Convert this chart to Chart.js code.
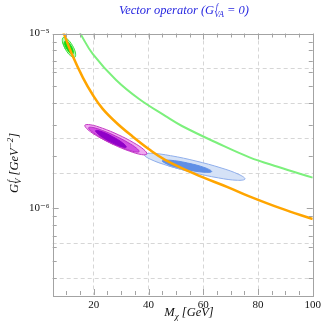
<!DOCTYPE html>
<html><head><meta charset="utf-8">
<script src="https://cdn.jsdelivr.net/npm/chart.js@4.4.0/dist/chart.umd.min.js"></script>
<style>html,body{margin:0;padding:0;background:#fff}#wrap{width:325px;height:334px}</style>
</head><body><div id="wrap"><canvas id="c" width="325" height="334"></canvas></div>
<script>
// ---- axis values ----
const xTicks = [10,15,20,25,30,35,40,45,50,55,60,65,70,75,80,85,90,95,100];
const xLabels = [20,40,60,80,100];
const xGrid = [20,40,60,80];
const yTicks = [4e-7,5e-7,6e-7,7e-7,8e-7,9e-7,1e-6,2e-6,3e-6,4e-6,5e-6,6e-6,7e-6,8e-6,9e-6,1e-5];
const yLabels = [1e-6,1e-5];
const yGrid = [6.31e-6,3.98e-6,2.51e-6,1.585e-6,6.31e-7,3.98e-7];

// ---- curves [M, G] ----
const orangeCurve = [[8.6,1.06e-5],[9.09,1.0e-5],[11.87,7.71e-6],[16.07,5.58e-6],[19.68,4.45e-6],[23.19,3.72e-6],[28.15,3.10e-6],[34.15,2.58e-6],[40.19,2.18e-6],[46.23,1.89e-6],[57.08,1.57e-6],[69.12,1.32e-6],[76.36,1.18e-6],[88.4,1.00e-6],[100,0.87e-6]];
const greenCurve = [[14.3,1.05e-5],[15.05,1.0e-5],[19.68,7.62e-6],[28.15,5.42e-6],[36.57,4.22e-6],[46.23,3.37e-6],[52.23,2.96e-6],[65.51,2.35e-6],[76.9,1.96e-6],[87.21,1.73e-6],[100,1.50e-6]];

// ---- contour outlines [M, G] ----
const greenOuter = [[9.70,8.10e-6],[8.57,8.96e-6],[8.83,9.49e-6],[10.33,9.30e-6],[12.20,8.55e-6],[13.33,7.73e-6],[13.07,7.30e-6],[11.56,7.45e-6]];
const greenInner = [[10.14,8.18e-6],[9.39,8.73e-6],[9.56,9.07e-6],[10.54,8.95e-6],[11.76,8.47e-6],[12.50,7.93e-6],[12.34,7.64e-6],[11.36,7.74e-6]];
const purpleOuter = [[27.24,2.316e-6],[21.69,2.568e-6],[17.85,2.819e-6],[16.74,2.988e-6],[18.68,3.010e-6],[23.13,2.876e-6],[28.91,2.640e-6],[34.46,2.381e-6],[38.30,2.169e-6],[39.41,2.046e-6],[37.47,2.031e-6],[33.02,2.126e-6]];
const purpleMid = [[26.74,2.358e-6],[22.21,2.568e-6],[19.06,2.768e-6],[18.13,2.894e-6],[19.68,2.902e-6],[23.27,2.786e-6],[27.97,2.593e-6],[32.49,2.381e-6],[35.64,2.209e-6],[36.57,2.112e-6],[35.03,2.107e-6],[31.43,2.193e-6]];
const purpleInner = [[25.79,2.418e-6],[21.97,2.635e-6],[20.66,2.782e-6],[22.64,2.758e-6],[26.74,2.579e-6],[30.57,2.367e-6],[31.87,2.240e-6],[29.89,2.261e-6]];
const blueOuter = [[56.32,1.603e-6],[47.17,1.754e-6],[40.60,1.913e-6],[38.38,2.031e-6],[41.10,2.065e-6],[48.04,2.003e-6],[57.33,1.866e-6],[66.49,1.705e-6],[73.05,1.564e-6],[75.27,1.473e-6],[72.55,1.448e-6],[65.61,1.494e-6]];
const blueInner = [[53.79,1.671e-6],[47.47,1.778e-6],[44.99,1.870e-6],[47.82,1.887e-6],[54.29,1.818e-6],[60.62,1.709e-6],[63.09,1.625e-6],[60.26,1.610e-6]];

const toXY = a => a.map(p => ({x:p[0], y:p[1]}));
const closed = a => toXY(a.concat([a[0], a[1]]));
const isLab = v => yLabels.some(l => Math.abs(Math.log10(v) - Math.log10(l)) < 1e-6);

function curve(a, color, w){
  return {data: toXY(a), borderColor: color, borderWidth: w, pointRadius: 0, fill: false,
          showLine: true, tension: 0.4};
}
function region(a, fillC, lineC, w){
  return {data: closed(a), borderColor: lineC, borderWidth: w, backgroundColor: fillC, fill: 'shape',
          pointRadius: 0, showLine: true, tension: 0.4};
}

const SERIF = '"Liberation Serif", "DejaVu Serif", serif';
function fontOf(g){ return 'italic ' + g.s + 'px ' + SERIF; }
function rich(ctx, segs, x, y, draw){
  let cx = x;
  for (let i = 0; i < segs.length; i++){
    const g = segs[i];
    ctx.font = fontOf(g);
    const ox = g.ox || 0;
    if (draw) ctx.fillText(g.t, cx + ox, y + (g.dy||0));
    let w = ctx.measureText(g.t).width + ox;
    if (g.stack){
      const n = segs[++i];
      ctx.font = fontOf(n);
      const nx = n.ox || 0;
      if (draw) ctx.fillText(n.t, cx + nx, y + (n.dy||0));
      w = Math.max(w, ctx.measureText(n.t).width + nx);
    }
    cx += w;
  }
  return cx - x;
}

const decor = {
  id: 'decor',
  afterDraw(chart){
    const ctx = chart.ctx, a = chart.chartArea, xs = chart.scales.x, ys = chart.scales.y;
    ctx.save();
    ctx.strokeStyle = '#a3a3a3'; ctx.lineWidth = 1;
    ctx.beginPath();
    xs.ticks.forEach(t => {
      const px = Math.round(xs.getPixelForValue(t.value)) + 0.5;
      const L = xLabels.includes(t.value) ? 6 : 4;
      ctx.moveTo(px, a.bottom); ctx.lineTo(px, a.bottom - L);
      ctx.moveTo(px, a.top); ctx.lineTo(px, a.top + L);
    });
    ys.ticks.forEach(t => {
      const py = Math.round(ys.getPixelForValue(t.value)) + 0.5;
      const L = isLab(t.value) ? 6 : 4;
      ctx.moveTo(a.left, py); ctx.lineTo(a.left + L, py);
      ctx.moveTo(a.right, py); ctx.lineTo(a.right - L, py);
    });
    ctx.stroke();
    ctx.strokeRect(Math.round(a.left) + 0.5, Math.round(a.top) + 0.5, Math.round(a.right - a.left), Math.round(a.bottom - a.top));

    ctx.textBaseline = 'alphabetic'; ctx.textAlign = 'left';
    // title
    ctx.fillStyle = '#2828e0';
    const tSegs = [{t:'Vector operator (G', s:12.5},{t:'f', s:8.5, dy:-5, ox:1.5, stack:true},{t:'VA', s:8.5, dy:3},{t:' = 0)', s:12.5}];
    const tw = rich(ctx, tSegs, 0, 0, false);
    rich(ctx, tSegs, 184 - tw/2, 14, true);
    // x title
    ctx.fillStyle = '#111';
    const xSegs = [{t:'M', s:12.5},{t:'χ', s:9, dy:3},{t:' [GeV]', s:12.5}];
    const xw = rich(ctx, xSegs, 0, 0, false);
    rich(ctx, xSegs, 189 - xw/2, 316, true);
    // y title
    const ySegs = [{t:'G', s:12.5},{t:'f', s:9, dy:-5, ox:1.5, stack:true},{t:'V', s:9, dy:3},{t:' [GeV', s:12.5},{t:'−2', s:9, dy:-5},{t:']', s:12.5}];
    const yw = rich(ctx, ySegs, 0, 0, false);
    ctx.translate(18, 163 + yw/2);
    ctx.rotate(-Math.PI/2);
    rich(ctx, ySegs, 0, 0, true);
    ctx.restore();
  }
};

new Chart(document.getElementById('c'), {
  type: 'scatter',
  data: { datasets: [
    curve(orangeCurve, '#FFA500', 2.5),
    curve(greenCurve, '#7CF07C', 2),
    region(greenInner, '#12DD12', '#12DD12', 1),
    region(greenOuter, '#B2F5B2', '#3ADF3A', 1),
    region(purpleInner, '#9000C8', '#9000C8', 1),
    region(purpleMid, '#D24FE2', '#B830C8', 1),
    region(purpleOuter, '#F0A8F0', '#C43CC4', 1),
    region(blueInner, '#5F8FE6', '#5F8FE6', 1),
    region(blueOuter, '#D5E2F7', '#8FAEEB', 1)
  ]},
  options: {
    responsive: false, animation: false, devicePixelRatio: 1,
    layout: { padding: { top: 33.5, right: 9.3, left: 0, bottom: 0 } },
    plugins: { legend: { display: false }, tooltip: { enabled: false }, title: { display: false } },
    scales: {
      x: {
        type: 'linear', min: 5, max: 100,
        afterBuildTicks: s => { s.ticks = xTicks.map(v => ({value: v})); },
        afterFit: s => { s.height = 39; },
        ticks: { autoSkip: false, maxRotation: 0, padding: 4, color: '#111',
                 font: { family: SERIF, size: 11 },
                 callback: v => xLabels.includes(v) ? String(v) : '' },
        grid: { drawTicks: false, lineWidth: 1,
                color: c => (c.tick && xGrid.includes(c.tick.value)) ? '#d6d6d6' : 'rgba(0,0,0,0)' },
        border: { display: false, dash: [4,3] }
      },
      y: {
        type: 'logarithmic', min: 3.2e-7, max: 1e-5, position: 'left',
        afterBuildTicks: s => { s.ticks = yTicks.map(v => ({value: v})); },
        afterFit: s => { s.width = 52.7; },
        ticks: { autoSkip: false, padding: 3, color: '#111',
                 font: { family: SERIF, size: 11 },
                 callback: v => isLab(v) ? (Math.round(Math.log10(v)) === -5 ? '10⁻⁵' : '10⁻⁶') : '' },
        grid: { drawOnChartArea: false, drawTicks: false },
        border: { display: false }
      },
      yg: {
        type: 'logarithmic', min: 3.2e-7, max: 1e-5, position: 'right',
        afterBuildTicks: s => { s.ticks = yGrid.map(v => ({value: v})); },
        afterFit: s => { s.width = 0; },
        ticks: { display: false },
        grid: { drawTicks: false, color: '#d6d6d6', lineWidth: 1 },
        border: { display: false, dash: [4,3] }
      }
    }
  },
  plugins: [decor]
});
</script></body></html>
